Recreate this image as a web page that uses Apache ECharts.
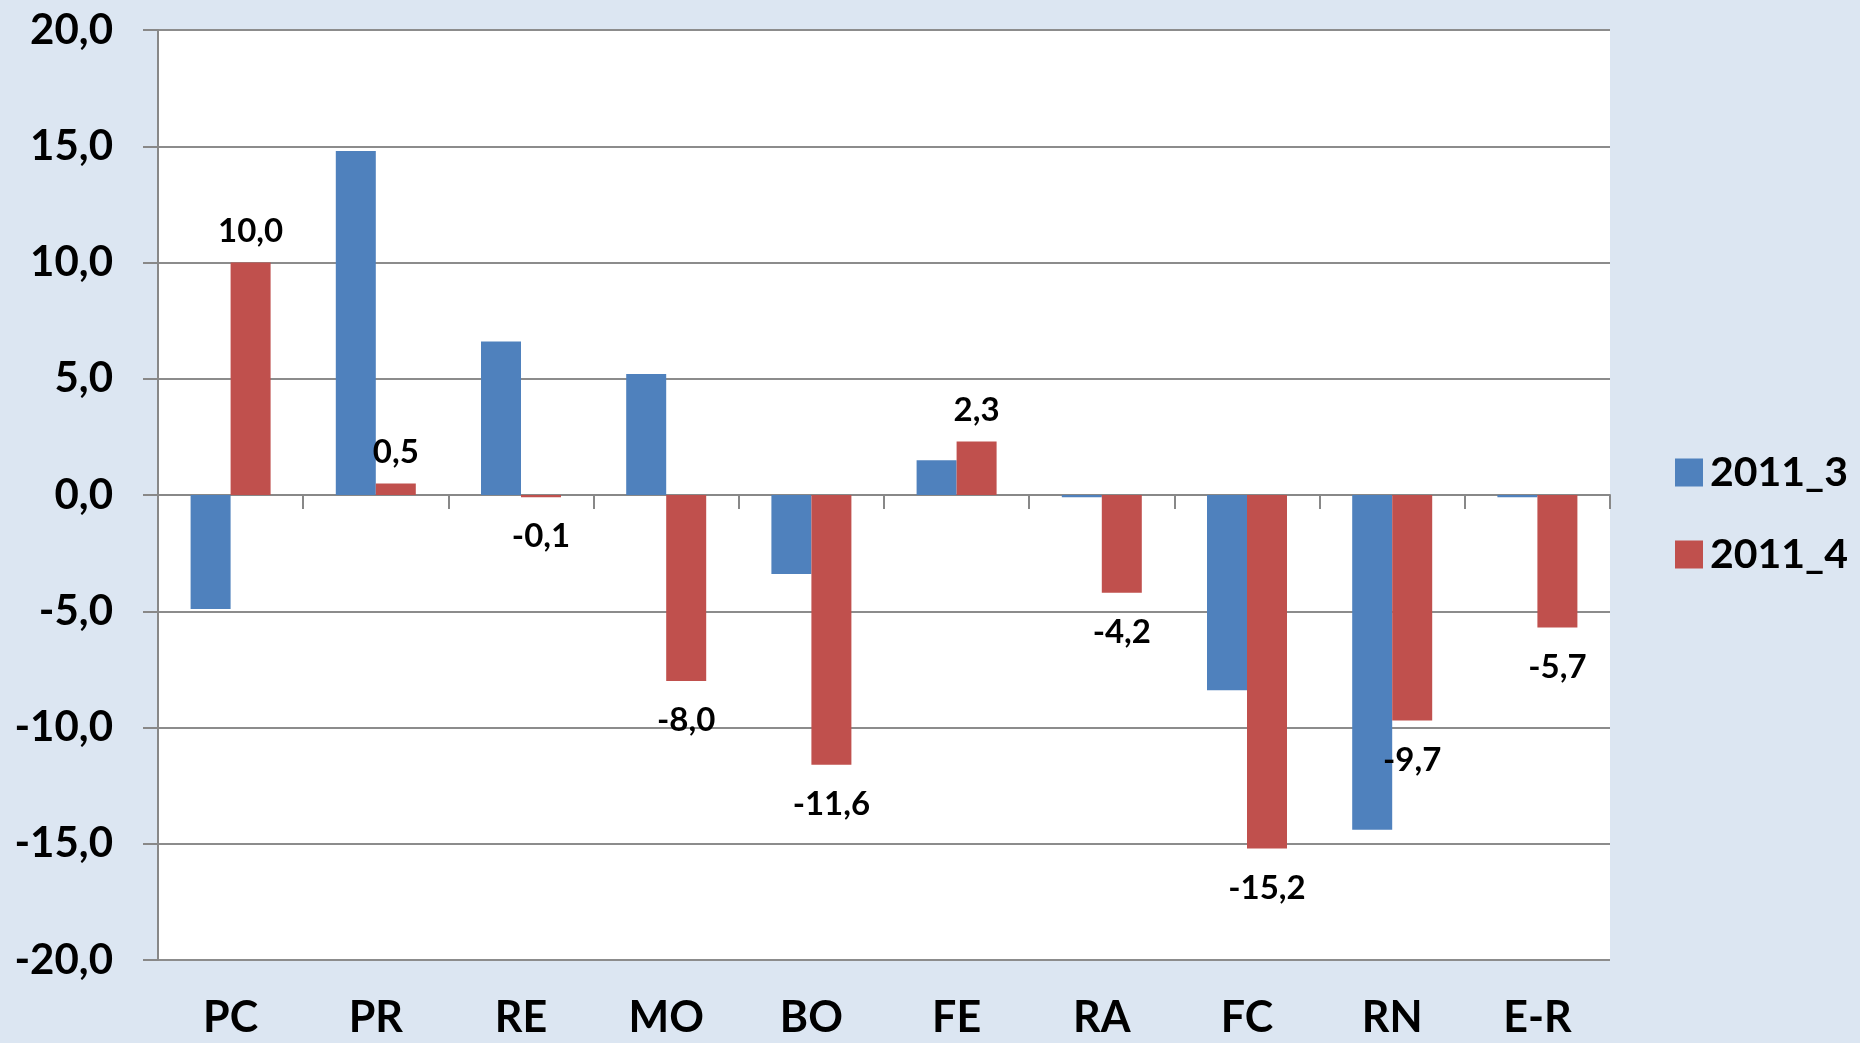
<!DOCTYPE html>
<html>
<head>
<meta charset="utf-8">
<title>2011_3 / 2011_4</title>
<script src="https://cdn.jsdelivr.net/npm/echarts@6/dist/echarts.min.js"></script>
<style>
  html, body { margin: 0; padding: 0; background: #dce6f2; }
  #main { width: 1860px; height: 1043px; }
</style>
</head>
<body>
<div id="main"></div>
<script>
// data
var categories = ['PC', 'PR', 'RE', 'MO', 'BO', 'FE', 'RA', 'FC', 'RN', 'E-R'];
var values2011_3 = [-4.9, 14.8, 6.6, 5.2, -3.4, 1.5, -0.1, -8.4, -14.4, -0.1];
var values2011_4 = [10.0, 0.5, -0.1, -8.0, -11.6, 2.3, -4.2, -15.2, -9.7, -5.7];
var yMin = -20, yMax = 20, yStep = 5;

var FONT = 'Lato';

function fmt(v) {
    return v.toFixed(1).replace('.', ',');
}

var myChart = echarts.init(document.getElementById('main'));

// red series carries labels, above for positive, under for negative
var redData = values2011_4.map(function (v) {
    return {
        value: v,
        label: v >= 0 ? { position: 'top', distance: 15 } : { position: 'bottom', distance: 23 }
    };
});

myChart.setOption({
    backgroundColor: '#dce6f2',
    animation: false,
    textStyle: { fontFamily: FONT },
    legend: {
        orient: 'vertical',
        left: 1670,
        top: 447,
        itemWidth: 28,
        itemHeight: 28,
        itemGap: 41,
        icon: 'rect',
        textStyle: { fontFamily: FONT, fontWeight: 'bold', fontSize: 41, color: '#000', padding: [0, 0, 0, 2] },
        data: ['2011_3', '2011_4']
    },
    grid: {
        left: 158,
        right: 250,
        top: 30,
        bottom: 83,
        show: true,
        backgroundColor: '#ffffff',
        borderWidth: 0
    },
    xAxis: [{
        // axis line through zero with the category ticks
        type: 'category',
        data: categories,
        position: 'top',
        axisLine: { onZero: true, lineStyle: { color: '#888888', width: 2 } },
        axisTick: { show: true, inside: true, length: 14, lineStyle: { color: '#888888', width: 2 } },
        axisLabel: { show: false }
    }, {
        // category names under the plot
        type: 'category',
        data: categories,
        position: 'bottom',
        axisLine: { show: false, onZero: false },
        axisTick: { show: false },
        axisLabel: { margin: 37, fontFamily: FONT, fontWeight: 'bold', fontSize: 43, color: '#000' }
    }],
    yAxis: {
        type: 'value',
        min: yMin,
        max: yMax,
        interval: yStep,
        axisLine: { show: true, lineStyle: { color: '#888888', width: 2 } },
        axisTick: { show: true, length: 15, lineStyle: { color: '#888888', width: 2 } },
        axisLabel: {
            margin: 45,
            fontFamily: FONT, fontWeight: 'bold', fontSize: 42, color: '#000',
            formatter: function (v) { return fmt(v); }
        },
        splitLine: { lineStyle: { color: '#8c8c8c', width: 2 } }
    },
    series: [{
        name: '2011_3',
        type: 'bar',
        xAxisIndex: 0,
        data: values2011_3,
        barWidth: 40,
        barGap: '0%',
        itemStyle: { color: '#4f81bd' }
    }, {
        name: '2011_4',
        type: 'bar',
        xAxisIndex: 0,
        data: redData,
        barWidth: 40,
        barGap: '0%',
        itemStyle: { color: '#c0504d' },
        label: {
            show: true,
            fontFamily: FONT,
            fontWeight: 'bold',
            fontSize: 33,
            color: '#000',
            formatter: function (p) { return fmt(p.value); }
        }
    }]
});
</script>
</body>
</html>
